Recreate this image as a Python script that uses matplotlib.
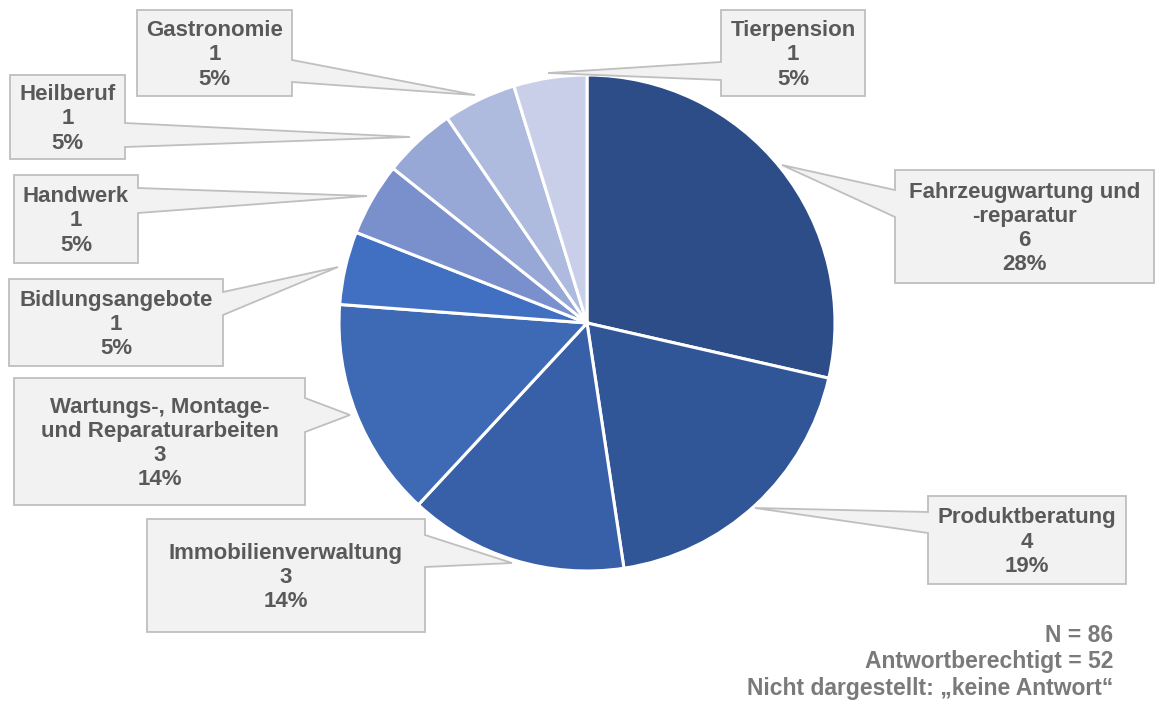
import matplotlib.pyplot as plt
from matplotlib.patches import Polygon

W, H = 1155, 704

# Branchen der Antworten (Anzahl Nennungen)
labels = ["Fahrzeugwartung und\n-reparatur", "Produktberatung", "Immobilienverwaltung",
          "Wartungs-, Montage-\nund Reparaturarbeiten", "Bidlungsangebote", "Handwerk",
          "Heilberuf", "Gastronomie", "Tierpension"]
counts = [6, 4, 3, 3, 1, 1, 1, 1, 1]
pct_labels = ["28%", "19%", "14%", "14%", "5%", "5%", "5%", "5%", "5%"]
colors = ["#2c4d88", "#305697", "#3760a8", "#3d69b5", "#4170c3",
          "#7a90cd", "#97a8d6", "#afbbde", "#c9cfe9"]

footnote = ["N = 86", "Antwortberechtigt = 52", "Nicht dargestellt: \u201ekeine Antwort\u201c"]

# callout boxes in pixels: (x0, y0, x1, y1), side of pointer, pointer base (ya, yb), tip
callouts = [
    ((895, 170, 1154, 283), "left", (190, 217), (782, 165)),
    ((928, 496, 1126, 584), "left", (512, 533), (755, 508)),
    ((147, 519, 425, 632), "right", (535, 567), (512, 563)),
    ((14, 378, 305, 505), "right", (398, 432), (350, 415)),
    ((9, 279, 223, 366), "right", (292, 315), (338, 267)),
    ((14, 175, 138, 263), "right", (188, 213), (367, 196)),
    ((10, 75, 125, 159), "right", (123, 147), (410, 137)),
    ((137, 10, 292, 96), "right", (60, 82), (475, 95)),
    ((721, 10, 865, 96), "left", (62, 80), (548, 73)),
]


def px(x, y):
    return x, H - y


fig = plt.figure(figsize=(W / 100, H / 100), dpi=100)
ax = fig.add_axes([0, 0, 1, 1])

ax.pie(counts, colors=colors, startangle=90, counterclock=False,
       center=px(587, 323), radius=248,
       wedgeprops=dict(edgecolor="white", linewidth=2.2))

for (box, side, (ya, yb), tip), lab, n, pct in zip(callouts, labels, counts, pct_labels):
    x0, y0, x1, y1 = box
    if side == "right":
        pts = [(x0, y0), (x1, y0), (x1, ya), tip, (x1, yb), (x1, y1), (x0, y1)]
    else:
        pts = [(x0, y0), (x1, y0), (x1, y1), (x0, y1), (x0, yb), tip, (x0, ya)]
    ax.add_patch(Polygon([px(*p) for p in pts], closed=True, facecolor="#f2f2f2",
                         edgecolor="#bfbfbf", linewidth=1.3, zorder=3))
    ax.text(*px((x0 + x1) / 2, (y0 + y1) / 2 + 2), f"{lab}\n{n}\n{pct}",
            ha="center", va="center", fontsize=16, fontweight="bold",
            color="#595959", family="Liberation Sans", linespacing=1.2, zorder=4)

for i, line in enumerate(footnote):
    ax.text(*px(1113, 635 + 26.5 * i), line, ha="right", va="center", fontsize=16.5,
            fontweight="bold", color="#7a7a7a", family="Liberation Sans")

ax.set_xlim(0, W)
ax.set_ylim(0, H)
ax.set_aspect("auto")
ax.axis("off")

fig.savefig("out.png", dpi=100, facecolor="white")
